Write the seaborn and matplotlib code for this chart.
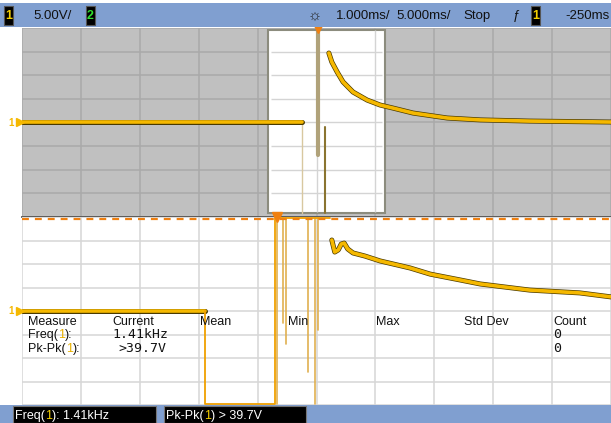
import matplotlib
matplotlib.use('Agg')
import matplotlib.pyplot as plt
import matplotlib.patheffects as pe
from matplotlib.patches import Rectangle
from matplotlib.transforms import blended_transform_factory
import seaborn as sns
import pandas as pd

W, H = 611, 423

# channel 1, main window (screen divisions)
main_flat_x = [0.0, 4.75]
main_flat_y = [0.0, 0.0]
main_decay_x = [5.21, 5.26, 5.35, 5.45, 5.62, 5.86, 6.08, 6.30, 6.64, 7.22, 7.78, 8.62, 10.0]
main_decay_y = [2.94, 2.56, 2.14, 1.72, 1.29, 0.95, 0.74, 0.61, 0.40, 0.19, 0.11, 0.06, 0.02]
main_spike_x = [4.75, 5.03, 5.14]
main_spike_top = [0.0, 3.92, -0.2]
main_spike_bot = [-3.83, -1.38, -3.83]

# channel 1, zoom window
zoom_step_x = [0.0, 3.11, 3.11, 4.30, 4.30, 5.23]
zoom_step_y = [0.0, 0.0, -3.96, -3.96, 3.97, 3.97]
zoom_spike_x = [4.33, 4.43, 4.48, 4.86, 4.97, 5.03]
zoom_spike_bot = [-3.96, -0.5, -1.4, -2.6, -3.96, -0.8]
zoom_decay_x = [5.26, 5.31, 5.37, 5.42, 5.47, 5.53, 5.62, 5.82, 6.08, 6.59, 6.93, 7.44, 7.78, 8.62, 9.47, 10.0]
zoom_decay_y = [3.02, 2.51, 2.60, 2.85, 2.89, 2.64, 2.47, 2.34, 2.13, 1.83, 1.57, 1.32, 1.15, 0.89, 0.77, 0.60]

zoom_box = (4.18, 6.16)   # zoomed span in main divisions
trig_main = 5.03
trig_zoom = 4.33
ground = 0.0

YEL = '#f5b800'
DARK = '#4a3a00'
BLUE = '#809fd0'
ORANGE = '#f08010'

sns.set_theme(style='white')
plt.rcParams['font.family'] = ['Liberation Sans', 'DejaVu Sans']


def trace(ax, x, y, lw=2.6, color=YEL, outline=True):
    df = pd.DataFrame({'x': x, 'y': y})
    fx = [pe.Stroke(linewidth=lw + 1.0, foreground=DARK), pe.Normal()] if outline else None
    sns.lineplot(data=df, x='x', y='y', ax=ax, sort=False, estimator=None,
                 color=color, lw=lw, path_effects=fx, legend=False, zorder=5)


def spikes(ax, xs, tops, bots, color, lw):
    rows = []
    for i, (x, t, b) in enumerate(zip(xs, tops, bots)):
        rows += [{'id': i, 'x': x, 'y': t}, {'id': i, 'x': x, 'y': b}]
    sns.lineplot(data=pd.DataFrame(rows), x='x', y='y', units='id', ax=ax, sort=False,
                 estimator=None, color=color, lw=lw, legend=False, zorder=4)


def panel(rect, bg, grid):
    ax = fig.add_axes(rect)
    ax.set_facecolor(bg)
    ax.set_xlim(0, 10)
    ax.set_ylim(-4, 4)
    ax.set_xticks(range(11))
    ax.set_yticks(range(-4, 5))
    ax.grid(True, color=grid, lw=1.1)
    ax.set_axisbelow(True)
    ax.tick_params(length=0, labelbottom=False, labelleft=False)
    ax.set_xlabel('')
    ax.set_ylabel('')
    for s in ax.spines.values():
        s.set_visible(False)
    return ax


def ground_marker(ax):
    tr = blended_transform_factory(ax.transAxes, ax.transData)
    ax.plot([-0.004], [ground], marker='>', ms=6, color=YEL, transform=tr, clip_on=False, zorder=6)
    ax.text(-0.018, ground, '1', transform=tr, color=YEL, fontsize=7, fontweight='bold',
            ha='center', va='center', clip_on=False)


fig = plt.figure(figsize=(W / 100, H / 100), dpi=100)


def fr(x0, y0, x1, y1):
    return [x0 / W, 1 - y1 / H, (x1 - x0) / W, (y1 - y0) / H]


# main window
top = panel(fr(22, 28, 611, 217), '#c0c0c0', '#a9a9a9')
top.spines['bottom'].set_visible(True)
top.spines['bottom'].set_color('#555555')
top.spines['bottom'].set_linewidth(1.3)
top.add_patch(Rectangle((zoom_box[0], -3.83), zoom_box[1] - zoom_box[0], 7.75,
                        facecolor='white', edgecolor='#8c8c7e', lw=1.5, zorder=1))
top.vlines([5, 6], -3.8, 3.9, color='#d4d4d4', lw=1, zorder=2)
top.hlines(range(-3, 4), zoom_box[0] + 0.05, zoom_box[1] - 0.05, color='#d4d4d4', lw=1, zorder=2)
trace(top, main_flat_x, main_flat_y)
spikes(top, main_spike_x[:1], main_spike_top[:1], main_spike_bot[:1], '#d8c8a0', 1)
spikes(top, main_spike_x[1:2], main_spike_top[1:2], main_spike_bot[1:2], '#b0a27a', 3)
spikes(top, main_spike_x[2:], main_spike_top[2:], main_spike_bot[2:], '#8a7430', 1.5)
trace(top, main_decay_x, main_decay_y)
top.plot([trig_main], [1.0], marker='v', ms=7, color=ORANGE, clip_on=False, zorder=7,
         transform=blended_transform_factory(top.transData, top.transAxes))
ground_marker(top)

# zoom window
bot = panel(fr(22, 217, 611, 405), 'white', '#d6d6d6')
trace(bot, zoom_step_x[:2], zoom_step_y[:2])
trace(bot, zoom_step_x[1:], zoom_step_y[1:], lw=1.3, color='#f0a000', outline=False)
spikes(bot, zoom_spike_x, [3.97] * len(zoom_spike_x), zoom_spike_bot, '#e0b050', 1.2)
trace(bot, zoom_decay_x, zoom_decay_y)
bot.axhline(3.93, color=ORANGE, lw=1.6, ls=(0, (3.1, 2.7)), zorder=6)
bot.plot([trig_zoom], [1.0], marker='v', ms=7, color=ORANGE, clip_on=False, zorder=7,
         transform=blended_transform_factory(bot.transData, bot.transAxes))
ground_marker(bot)

# overlay for the screen furniture, in pixels
ov = fig.add_axes([0, 0, 1, 1], zorder=10)
ov.set_xlim(0, W)
ov.set_ylim(H, 0)
ov.axis('off')

ov.add_patch(Rectangle((0, 3), W, 24, facecolor=BLUE, edgecolor='none'))
ov.add_patch(Rectangle((0, 405), W, 18, facecolor=BLUE, edgecolor='none'))


def chip(x, label, color):
    ov.add_patch(Rectangle((x, 6), 9, 19, facecolor='black', edgecolor='#555555', lw=0.8))
    ov.text(x + 4.5, 16, label, color=color, fontsize=9, fontweight='bold', ha='center', va='center')


hdr = dict(fontsize=9.5, color='#111111', va='center')
chip(4, '1', '#f5d000')
ov.text(33, 16, '5.00V/', **hdr)
chip(86, '2', '#30e030')
ov.text(315, 16, '\u263c', fontsize=11, color='#222222', ha='center', va='center')
ov.text(336, 16, '1.000ms/', **hdr)
ov.text(396, 16, '5.000ms/', **hdr)
ov.text(463, 16, 'Stop', **hdr)
ov.text(513, 16, '\u0192', **hdr)
chip(531, '1', '#f5d000')
ov.text(565, 16, '-250ms', **hdr)


def parts(x, y, pieces, **kw):
    t = ov.text(x, y, pieces[0][0], color=pieces[0][1], va='baseline', **kw)
    for s, c in pieces[1:]:
        t = ov.annotate(s, xy=(1, 0), xycoords=t, va='bottom', ha='left', color=c, **kw)


tab = dict(fontsize=9)
for label, x in [('Measure', 28), ('Current', 112), ('Mean', 200), ('Min', 288),
                 ('Max', 376), ('Std Dev', 464), ('Count', 553)]:
    ov.text(x, 325, label, color='#111111', va='baseline', **tab)
parts(28, 338, [('Freq(', '#111111'), ('1', '#e8b000'), ('):', '#111111')], **tab)
parts(28, 352, [('Pk-Pk(', '#111111'), ('1', '#e8b000'), ('):', '#111111')], **tab)
ov.text(112, 338, '1.41kHz', family='DejaVu Sans Mono', fontsize=9.5, color='#111111', va='baseline')
ov.text(118, 352, '>39.7V', family='DejaVu Sans Mono', fontsize=9.5, color='#111111', va='baseline')
ov.text(553, 338, '0', family='DejaVu Sans Mono', fontsize=9.5, color='#111111', va='baseline')
ov.text(553, 352, '0', family='DejaVu Sans Mono', fontsize=9.5, color='#111111', va='baseline')

ov.add_patch(Rectangle((13, 406), 143, 17, facecolor='black', edgecolor='#777777', lw=0.8))
ov.add_patch(Rectangle((164, 406), 142, 17, facecolor='black', edgecolor='#777777', lw=0.8))
parts(15, 419, [('Freq(', 'white'), ('1', '#f5d000'), ('): 1.41kHz', 'white')], **tab)
parts(166, 419, [('Pk-Pk(', 'white'), ('1', '#f5d000'), (') > 39.7V', 'white')], **tab)

fig.savefig('out.png', dpi=100)
